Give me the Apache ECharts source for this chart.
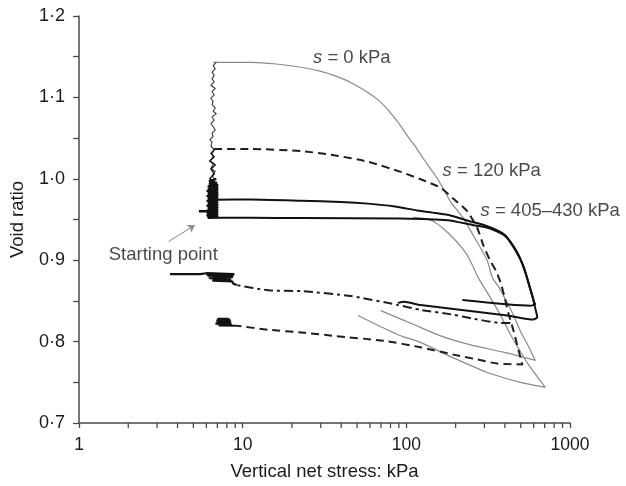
<!DOCTYPE html>
<html>
<head>
<meta charset="utf-8">
<script src="https://cdn.jsdelivr.net/npm/echarts@6/dist/echarts.min.js"></script>
<style>
html,body{margin:0;padding:0;background:#fff;}
#c{width:626px;height:486px;}
</style>
</head>
<body>
<div id="c"></div>
<script>
// ---- Data (x = vertical net stress kPa, y = void ratio) ----
var xTickLabels = [1, 10, 100, 1000];
var xMinorTicks = [2,3,4,5,6,7,8,9,20,30,40,50,60,70,80,90,200,300,400,500,600,700,800,900];
var yTickLabels = [0.7, 0.8, 0.9, 1.0, 1.1, 1.2];

// s = 0 kPa: wetting (jagged) at starting stress
var s0Wetting = [[6.6,0.955],[6.5,0.96],[6.8,0.964],[6.4,0.969],[6.7,0.973],[6.5,0.978],[6.9,0.982],[6.4,0.987],[6.6,0.99],[6.3,0.995],[6.7,1.0],[6.5,1.004],[6.8,1.009],[6.4,1.013],[6.6,1.018],[6.3,1.022],[6.6,1.027],[6.5,1.031],[6.7,1.036],[6.4,1.04],[6.5,1.045],[6.3,1.048],[6.6,1.052],[6.5,1.056],[6.8,1.06],[6.6,1.064],[6.4,1.068],[6.7,1.072],[6.5,1.076],[6.9,1.08],[6.6,1.083],[6.8,1.087],[6.5,1.091],[6.6,1.095],[6.4,1.099],[6.7,1.103],[6.5,1.107],[6.8,1.111],[6.4,1.115],[6.7,1.119],[6.5,1.123],[6.7,1.127],[6.5,1.131],[6.8,1.135],[6.6,1.139],[6.9,1.143]];
// s = 0 kPa: loading and unloading
var s0Path = [[6.6,1.143],[11.3,1.143],[16,1.141],[22.8,1.137],[30,1.132],[36.1,1.127],[46,1.118],[58.2,1.106],[68,1.096],[77.1,1.085],[90,1.068],[102,1.052],[115,1.038],[128,1.024],[142,1.011],[155,1.0],[170,0.986],[186,0.972],[205,0.961],[224,0.951],[257,0.930],[290,0.912],[313,0.899],[336,0.878],[370,0.866],[403,0.852],[450,0.833],[497,0.813],[555,0.795],[613,0.777],[392,0.787],[247,0.796],[162,0.807],[111,0.821],[69.8,0.838]];
// second thin grey test (branching from the lower solid curve)
var s0bPath = [[110,0.9525],[130,0.951],[147,0.9476],[170,0.938],[194,0.927],[215,0.917],[236,0.906],[256,0.892],[276,0.878],[326,0.854],[380,0.831],[432,0.809],[490,0.79],[556,0.772],[630,0.757],[705,0.744],[497,0.750],[313,0.762],[194,0.780],[122,0.799],[88.7,0.8085],[50.6,0.832]];

// s = 120 kPa: wetting (jagged)
var s120Wetting = [[6.5,0.955],[6.9,0.961],[6.3,0.966],[6.8,0.972],[6.4,0.978],[6.9,0.983],[6.4,0.989],[6.8,0.995],[6.3,1.0],[6.7,1.006],[6.4,1.012],[6.8,1.017],[6.3,1.022],[6.7,1.027],[6.4,1.031],[6.6,1.034],[6.8,1.037]];
// s = 120 kPa: loading and unloading
var s120Path = [[6.7,1.0366],[11.3,1.0366],[22.8,1.034],[36.1,1.029],[58.2,1.021],[92.5,1.0085],[135,0.996],[162,0.989],[194,0.9756],[236,0.960],[272,0.939],[296,0.918],[326,0.899],[355,0.886],[380,0.87],[400,0.853],[420,0.835],[450,0.8146],[484,0.790],[511,0.772],[360,0.773],[272,0.778],[194,0.784],[122,0.793],[72.9,0.801],[36.1,0.807],[23.7,0.811],[14.3,0.8146],[9.2,0.8195]];
var s120EndBlock = [[9.2,0.8195],[7.2,0.82],[8.5,0.821],[6.9,0.822],[8.4,0.823],[7.0,0.824],[8.4,0.825],[7.0,0.826],[8.3,0.827],[7.1,0.828],[8.2,0.828]];
// second dashed unloading branch
var s120bUnload = [[432,0.823],[375.5,0.823],[260,0.828],[194,0.833],[122,0.839],[88.7,0.845],[45.9,0.856],[22.8,0.862],[14.3,0.863],[9.2,0.8695]];
var s120bEndBlock = [[9.2,0.8695],[8.8,0.871],[8.6,0.874],[6.6,0.875],[8.4,0.876],[6.3,0.878],[8.6,0.879],[6.2,0.88],[8.7,0.881],[6.1,0.882],[8.8,0.883],[6.0,0.884],[5.5,0.883],[3.6,0.883]];

// s = 405-430 kPa: drying block (jagged) and two loading/unloading curves
var s405Block = [[5.4,0.960],[6.1,0.960],[6.2,0.952],[7.0,0.953],[6.1,0.955],[7.0,0.956],[6.2,0.958],[7.0,0.959],[6.1,0.961],[7.0,0.962],[6.2,0.964],[7.0,0.965],[6.1,0.967],[7.0,0.968],[6.2,0.97],[7.0,0.971],[6.1,0.973],[7.0,0.974],[6.2,0.976],[7.0,0.977],[6.1,0.979],[7.0,0.98],[6.2,0.982],[7.0,0.983],[6.1,0.985],[7.0,0.986],[6.2,0.988],[7.0,0.989],[6.2,0.991],[7.0,0.992],[6.3,0.994],[6.9,0.995],[6.3,0.997],[6.9,1.0]];
var s405aPath = [[6.8,0.9744],[11.3,0.9745],[22.8,0.973],[40,0.9715],[58.2,0.9695],[85,0.966],[117,0.961],[150,0.958],[186,0.955],[247,0.9476],[300,0.943],[360,0.9366],[400,0.931],[432,0.923],[465,0.913],[497,0.902],[525,0.89],[548,0.878],[570,0.866],[588,0.857],[605,0.848],[613,0.846],[572,0.844],[220,0.851]];
var s405bPath = [[6.3,0.952],[11.3,0.952],[22.8,0.9518],[92.5,0.9512],[179,0.949],[257,0.943],[310,0.94],[360,0.935],[400,0.93],[432,0.922],[465,0.912],[497,0.901],[525,0.889],[548,0.877],[570,0.865],[588,0.856],[605,0.846],[622,0.836],[631,0.830],[596,0.827],[414,0.832],[122,0.845],[96.4,0.849],[88.7,0.8476]];

// annotations
var annotations = [
  {text: '{i|s} = 0 kPa', at: [26.9, 1.149]},
  {text: '{i|s} = 120 kPa', at: [166.5, 1.0098]},
  {text: '{i|s} = 405\u2013430 kPa', at: [284, 0.961]},
  {text: 'Starting point', at: [1.52, 0.906]}
];
var arrowFrom = [3.53, 0.923];
var arrowTo = [5.1, 0.943];

// ---- Chart ----
var FONT = 'Liberation Sans, Arial, sans-serif';
var TXT = '#1a1a1a';
var chart = echarts.init(document.getElementById('c'));

function lineSeries(name, data, color, width, type, smooth) {
  return {
    name: name, type: 'line', data: data, showSymbol: false, symbol: 'none',
    smooth: smooth || false, silent: true, z: 3,
    lineStyle: {color: color, width: width, type: type || 'solid', cap: 'butt', join: 'round'}
  };
}

var series = [
  lineSeries('s0', s0Path, '#8a8a8a', 1.2, 'solid', 0.2),
  lineSeries('s0b', s0bPath, '#8a8a8a', 1.2, 'solid', 0.2),
  lineSeries('s0wet', s0Wetting, '#3a3a3a', 1.1),
  lineSeries('s120', s120Path, '#1e1e1e', 2, [8, 5], 0.2),
  lineSeries('s120end', s120EndBlock, '#111', 2.2),
  lineSeries('s120b', s120bUnload, '#1e1e1e', 2, [9, 4, 3, 4], 0.2),
  lineSeries('s120bend', s120bEndBlock, '#111', 2.2),
  lineSeries('s120wet', s120Wetting, '#1e1e1e', 1.5),
  lineSeries('s405block', s405Block, '#111', 2.5),
  lineSeries('s405a', s405aPath, '#111', 2, 'solid', 0.2),
  lineSeries('s405b', s405bPath, '#111', 2, 'solid', 0.2),
  {
    name: 'minorTicks', type: 'custom', silent: true, clip: false, z: 5,
    data: xMinorTicks.map(function (v) { return [v, 0.7]; }),
    renderItem: function (params, api) {
      var p = api.coord([api.value(0), api.value(1)]);
      return {type: 'line', shape: {x1: p[0], y1: p[1], x2: p[0], y2: p[1] + 5},
        style: {stroke: '#4a4a4a', lineWidth: 1.3}};
    }
  },
  {
    name: 'labels', type: 'scatter', symbolSize: 0, silent: true, z: 6,
    data: annotations.map(function (a) {
      return {value: a.at, label: {formatter: a.text}};
    }),
    label: {
      show: true, position: 'right', distance: 0, color: TXT,
      fontFamily: FONT, fontSize: 18.5,
      rich: {i: {fontStyle: 'italic', fontFamily: FONT, fontSize: 18.5, color: TXT}}
    },
    markLine: {
      silent: true, symbol: ['none', 'arrow'], symbolSize: 7,
      label: {show: false},
      lineStyle: {color: '#8a8a8a', width: 1, type: 'solid'},
      data: [[{coord: arrowFrom}, {coord: arrowTo}]]
    }
  }
];

chart.setOption({
  animation: false,
  backgroundColor: '#fff',
  grid: {left: 77, right: 56, top: 16, bottom: 60, containLabel: false},
  xAxis: {
    type: 'log', logBase: 10, min: xTickLabels[0], max: xTickLabels[xTickLabels.length - 1],
    name: 'Vertical net stress: kPa', nameLocation: 'middle', nameGap: 39,
    nameTextStyle: {color: TXT, fontFamily: FONT, fontSize: 18.5},
    axisLine: {lineStyle: {color: '#4a4a4a', width: 1.5}},
    axisTick: {show: true, inside: false, length: 5, lineStyle: {color: '#4a4a4a', width: 1.3}},
    axisLabel: {color: TXT, fontFamily: FONT, fontSize: 17.5, margin: 13,
      formatter: function (v) { return String(Math.round(v)); }},
    splitLine: {show: false}, minorTick: {show: false}
  },
  yAxis: {
    type: 'value', min: 0.7, max: 1.2, interval: 0.05,
    name: 'Void ratio', nameLocation: 'middle', nameGap: 52,
    nameTextStyle: {color: TXT, fontFamily: FONT, fontSize: 18.5},
    axisLine: {show: true, lineStyle: {color: '#4a4a4a', width: 1.5}},
    axisTick: {show: true, inside: false, length: 6, lineStyle: {color: '#4a4a4a', width: 1.3}},
    axisLabel: {color: TXT, fontFamily: FONT, fontSize: 18, margin: 14,
      formatter: function (v) {
        for (var k = 0; k < yTickLabels.length; k++) {
          if (Math.abs(v - yTickLabels[k]) < 1e-6) return yTickLabels[k].toFixed(1).replace('.', '\u00b7');
        }
        return '';
      }},
    splitLine: {show: false}
  },
  series: series
});
</script>
</body>
</html>
